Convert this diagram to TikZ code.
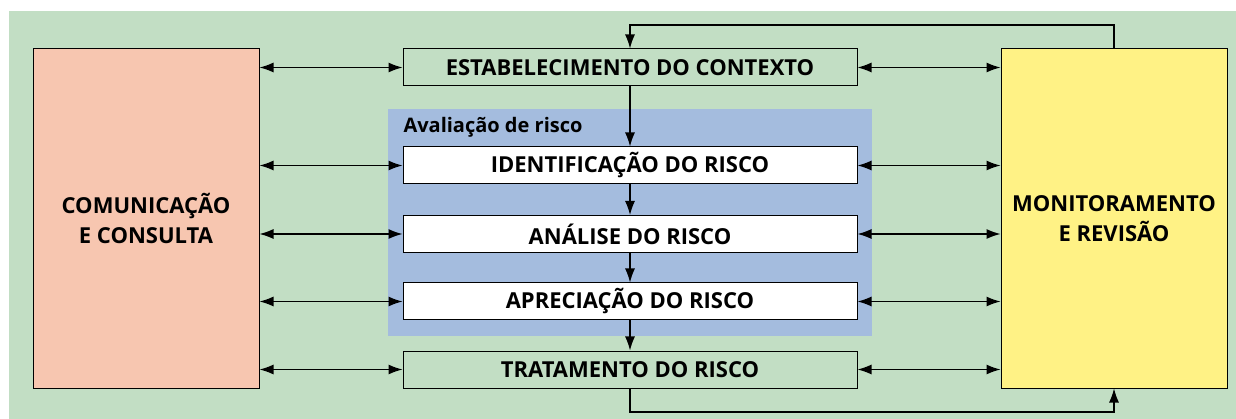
\documentclass[tikz,border=0pt]{standalone}
\usepackage{fontspec}
\setmainfont{Open Sans}
\usetikzlibrary{arrows.meta,positioning}
\definecolor{bggreen}{RGB}{194,222,196}
\definecolor{comsalmon}{RGB}{247,198,176}
\definecolor{monyellow}{RGB}{255,242,133}
\definecolor{avblue}{RGB}{164,188,222}

\begin{document}
\begin{tikzpicture}[x=1pt, y=-1pt,
            sidebox/.style={draw, line width=1pt, align=center, minimum width=226, minimum height=339, font=\fontsize{22}{30}\selectfont\bfseries},
            stepbox/.style={draw, line width=1pt, minimum width=454, minimum height=37, font=\fontsize{22}{24}\selectfont\bfseries},
            flow/.style={draw, line width=1.2pt, -{Latex[length=14pt,width=10pt]}},
            biflow/.style={draw, line width=1.2pt, {Latex[length=14pt,width=10pt]}-{Latex[length=14pt,width=10pt]}}
        ]
            \useasboundingbox (0,0) rectangle (1236,419);
            \fill[bggreen] (9,11) rectangle (1236,419);

            % Side blocks
            \node (com) at (146,218.5) [sidebox, fill=comsalmon] {COMUNICAÇÃO\\E CONSULTA};
            \node (mon) at (1114,218.5) [sidebox, fill=monyellow] {MONITORAMENTO\\E REVISÃO};

            % Risk assessment frame
            \node (aval) at (630,222.5) [fill=avblue, minimum width=484, minimum height=227] {};
            \node (avallbl) at (400,127) [anchor=west, font=\fontsize{20}{22}\selectfont\bfseries] {Avaliação de risco};

            % Process steps
            \node (ctx) at (630,67.5) [stepbox, fill=bggreen] {ESTABELECIMENTO DO CONTEXTO};
            \node (ident) at (630,165.5) [stepbox, fill=white] {IDENTIFICAÇÃO DO RISCO};
            \node (anal) at (630,234) [stepbox, fill=white] {ANÁLISE DO RISCO};
            \node (apre) at (630,301.5) [stepbox, fill=white] {APRECIAÇÃO DO RISCO};
            \node (trat) at (630,369.5) [stepbox, fill=bggreen] {TRATAMENTO DO RISCO};

            % Links to the side blocks
            \foreach \n in {ctx,ident,anal,apre,trat} {
                \draw[biflow] (com.east |- \n) -- (\n.west);
                \draw[biflow] (\n.east) -- (mon.west |- \n);
            }

            % Main flow
            \draw[flow] (ctx) -- (ident);
            \draw[flow] (ident) -- (anal);
            \draw[flow] (anal) -- (apre);
            \draw[flow] (apre) -- (trat);

            % Feedback loops
            \coordinate (loopT) at (630,25);
            \coordinate (loopB) at (630,412);
            \draw[flow] (mon.north) |- (loopT) -- (ctx.north);
            \draw[flow] (trat.south) -- (loopB) -| (mon.south);
        \end{tikzpicture}
\end{document}
